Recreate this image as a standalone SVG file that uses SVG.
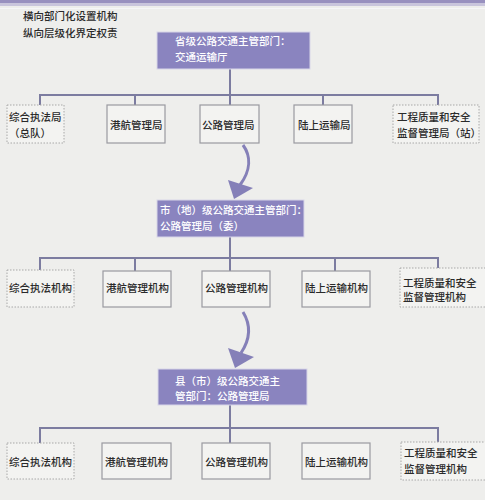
<svg xmlns="http://www.w3.org/2000/svg" width="485" height="500" viewBox="0 0 485 500">
<style>
.t{font-family:"Noto Sans CJK SC","Noto Sans",sans-serif;font-size:10.5px;font-weight:500;fill:#2a2a2a;}
.w{font-family:"Noto Sans CJK SC","Noto Sans",sans-serif;font-size:10.5px;font-weight:500;fill:#ffffff;}
.pb{fill:#8a84bf;stroke:#d8d6e8;stroke-width:1;}
.sb{fill:#f3f3f1;stroke:#9a9aa0;stroke-width:1.2;}
.db{fill:#f3f3f1;stroke:#a8a8a8;stroke-width:1;stroke-dasharray:1.5 1.5;}
.c{stroke:#7c7ca0;stroke-width:2;fill:none;}
.a{stroke:#8580b8;stroke-width:3;fill:none;}
.ah{fill:#8580b8;}
</style>
<rect x="0" y="0" width="485" height="500" fill="#eeeeec"/>
<rect x="0" y="0" width="485" height="3" fill="#9890bf"/>
<rect x="0" y="3" width="485" height="3" fill="#c9c5dc"/>
<rect x="0" y="8" width="485" height="1" fill="#f6f6f8"/>
<g id="legend">
<text class="t" x="23" y="20">横向部门化设置机构</text>
<text class="t" x="23" y="37">纵向层级化界定权责</text>
</g>
<g id="connectors">
<path class="c" d="M230,69 V95 M40,95 H438 M40,94 V105 M135,94 V105 M230,94 V105 M323,94 V105 M438,94 V105"/>
<path class="c" d="M230,237 V258 M40,258 H438 M40,257 V270 M135,257 V271 M230,257 V271 M335,257 V271 M438,257 V268"/>
<path class="c" d="M230,405 V428 M40,428 H438 M40,427 V443 M230,427 V443 M438,427 V442"/>
<path class="a" d="M243,145 C251,156 251,170 240,185"/>
<polygon class="ah" points="228,180 253,188 234,199"/>
<path class="a" d="M243,312 C251,325 251,338 241,353"/>
<polygon class="ah" points="228,348 254,357 235,368"/>
</g>
<g id="prov">
<rect class="pb" x="157" y="32" width="153" height="37"/>
<text class="w" x="175" y="45">省级公路交通主管部门：</text>
<text class="w" x="175" y="61">交通运输厅</text>
</g>
<g id="r1b1"><rect class="db" x="7" y="105" width="57" height="38"/><text class="t" x="9" y="121">综合执法局</text><text class="t" x="9" y="137">（总队）</text></g>
<g id="r1b2"><rect class="sb" x="107" y="105" width="58" height="38"/><text class="t" x="110" y="129">港航管理局</text></g>
<g id="r1b3"><rect class="sb" x="200" y="105" width="59" height="38"/><text class="t" x="202" y="129">公路管理局</text></g>
<g id="r1b4"><rect class="sb" x="294" y="105" width="58" height="38"/><text class="t" x="298" y="129">陆上运输局</text></g>
<g id="r1b5"><rect class="db" x="393" y="105" width="86" height="38"/><text class="t" x="397" y="121">工程质量和安全</text><text class="t" x="397" y="137">监督管理局（站）</text></g>
<g id="city">
<rect class="pb" x="157" y="200" width="147" height="37"/>
<text class="w" x="160" y="214">市（地）级公路交通主管部门：</text>
<text class="w" x="160" y="230">公路管理局（委）</text>
</g>
<g id="r2b1"><rect class="db" x="7" y="270" width="67" height="37"/><text class="t" x="9" y="292">综合执法机构</text></g>
<g id="r2b2"><rect class="sb" x="103" y="271" width="68" height="36"/><text class="t" x="106" y="292">港航管理机构</text></g>
<g id="r2b3"><rect class="sb" x="202" y="271" width="68" height="36"/><text class="t" x="205" y="292">公路管理机构</text></g>
<g id="r2b4"><rect class="sb" x="302" y="271" width="68" height="36"/><text class="t" x="305" y="292">陆上运输机构</text></g>
<g id="r2b5"><rect class="db" x="400" y="268" width="86" height="39"/><text class="t" x="403" y="287">工程质量和安全</text><text class="t" x="403" y="301">监督管理机构</text></g>
<g id="county">
<rect class="pb" x="158" y="369" width="149" height="36"/>
<text class="w" x="175" y="385">县（市）级公路交通主</text>
<text class="w" x="175" y="400">管部门：公路管理局</text>
</g>
<g id="r3b1"><rect class="db" x="7" y="443" width="67" height="36"/><text class="t" x="9" y="466">综合执法机构</text></g>
<g id="r3b2"><rect class="sb" x="102" y="443" width="69" height="36"/><text class="t" x="105" y="466">港航管理机构</text></g>
<g id="r3b3"><rect class="sb" x="202" y="443" width="68" height="36"/><text class="t" x="205" y="466">公路管理机构</text></g>
<g id="r3b4"><rect class="sb" x="302" y="443" width="68" height="36"/><text class="t" x="305" y="466">陆上运输机构</text></g>
<g id="r3b5"><rect class="db" x="401" y="442" width="86" height="38"/><text class="t" x="404" y="457">工程质量和安全</text><text class="t" x="404" y="473">监督管理机构</text></g>
</svg>
